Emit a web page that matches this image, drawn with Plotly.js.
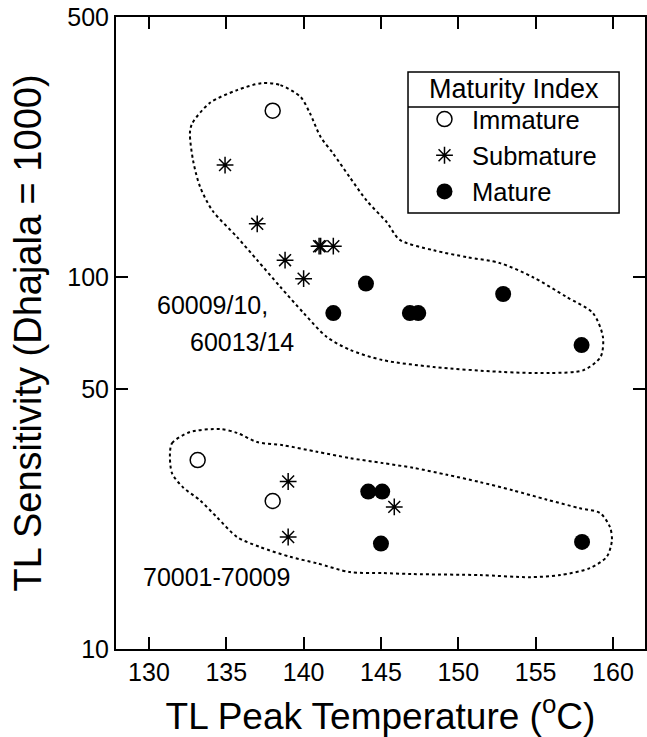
<!DOCTYPE html>
<html>
<head>
<meta charset="utf-8">
<script src="https://cdn.plot.ly/plotly-3.0.1.min.js"></script>
<style>html,body{margin:0;padding:0;background:#fff;}#chart{width:647px;height:737px;}</style>
</head>
<body>
<div id="chart"></div>
<script>
// Data values (TL peak temperature in °C, TL sensitivity relative to Dhajala = 1000)
const immatureX = [138, 133.15, 138];
const immatureY = [280, 32.2, 25];

const submatureX = [134.92, 137.0, 138.8, 140.0, 141.0, 141.1, 141.92, 139.0, 139.0, 145.86];
const submatureY = [200, 139, 111, 99, 121, 121, 121, 28.2, 20, 24.1];

const matureX = [141.92, 144.03, 146.87, 147.41, 152.9, 157.97, 144.18, 145.08, 145.0, 158.0];
const matureY = [80, 96, 80, 80, 90, 65.6, 26.5, 26.5, 19.2, 19.4];

// Dotted outline around 60009/10, 60013/14 group
const outlineTopX = [137.3,138.5,139.8,140.4,141.1,141.9,143.0,144.1,145.4,146.2,148.4,150.6,152.7,154.8,157.0,158.7,159.35,159.2,158.1,155.9,152.7,148.4,145.1,143.0,141.5,140.0,138.5,137.0,135.7,134.1,133.3,132.85,132.65,132.8,133.95,135.7,137.3];
const outlineTopY = [332,328,305,276,238,215,185,160,140,126,118,113,109,100,88.4,80,69,61,56.2,55.2,55.6,57.3,59.8,63.7,69,80,94,111,128,151,175,206,244,259,294,318,332];

// Dotted outline around 70001-70009 group
const outlineBotX = [131.36,131.5,132.65,134.6,135.7,137.0,138.66,140.86,143.0,145.13,147.07,149.27,151.4,153.53,155.73,157.86,159.16,159.8,159.93,159.6,158.5,156.57,154.63,151.4,147.07,145.13,143.0,140.86,139.12,137.18,135.7,134.4,133.3,132.2,131.49,131.36];
const outlineBotY = [33.7,35.8,38.3,39.0,38.1,36.0,35.3,33.9,32.6,31.6,30.7,29.4,28.1,26.7,25.2,23.9,23.2,21.3,19.6,17.7,16.5,15.8,15.6,15.8,15.9,16.0,16.1,17.0,17.7,18.8,20.0,22.6,25.1,27.2,29.7,33.7];

const xTicks = [130, 135, 140, 145, 150, 155, 160];
const yTicks = [10, 50, 100, 500];

const FONT = "Liberation Sans, Arial, Helvetica, sans-serif";

const traces = [
  {x: outlineTopX, y: outlineTopY, mode: 'lines', showlegend: false, hoverinfo: 'skip',
   line: {color: '#000', width: 2, dash: 'dot', shape: 'spline', smoothing: 0.8}},
  {x: outlineBotX, y: outlineBotY, mode: 'lines', showlegend: false, hoverinfo: 'skip',
   line: {color: '#000', width: 2, dash: 'dot', shape: 'spline', smoothing: 0.8}},
  {x: immatureX, y: immatureY, mode: 'markers', name: 'Immature',
   marker: {symbol: 'circle-open', size: 15, color: '#000', line: {width: 1.5, color: '#000'}}},
  {x: submatureX, y: submatureY, mode: 'markers', name: 'Submature',
   marker: {symbol: 'asterisk-open', size: 14, color: '#000', line: {width: 1.5, color: '#000'}}},
  {x: matureX, y: matureY, mode: 'markers', name: 'Mature',
   marker: {symbol: 'circle', size: 16, color: '#000', line: {width: 0}}}
];

// legend frame (paper coordinates)
const boxX0 = 0.552, boxX1 = 0.951, boxY0 = 0.690, boxY1 = 0.913, sepY = 0.8576;

const layout = {
  width: 647, height: 737,
  margin: {l: 116, r: 2, t: 17, b: 88},
  paper_bgcolor: '#fff', plot_bgcolor: '#fff',
  font: {family: FONT, color: '#000', size: 24},
  showlegend: true,
  legend: {
    x: 0.569, y: 0.875, xanchor: 'left', yanchor: 'top',
    bgcolor: 'rgba(0,0,0,0)', borderwidth: 0, itemwidth: 45,
    font: {family: FONT, size: 25.5, color: '#000'},
    tracegroupgap: 0
  },
  xaxis: {
    range: [127.87, 162.07], tickvals: xTicks, ticktext: xTicks.map(String),
    ticks: 'inside', ticklen: 12, tickwidth: 2, tickcolor: '#000',
    showline: true, linewidth: 2, linecolor: '#000', mirror: 'ticks',
    showgrid: false, zeroline: false,
    tickfont: {family: FONT, size: 25, color: '#000'},
    title: {text: 'TL Peak Temperature (<sup>o</sup>C)', font: {family: FONT, size: 37, color: '#000'}, standoff: 20}
  },
  yaxis: {
    type: 'log', range: [1, Math.log10(500)], tickvals: yTicks, ticktext: yTicks.map(String),
    ticks: 'inside', ticklen: 12, tickwidth: 2, tickcolor: '#000',
    showline: true, linewidth: 2, linecolor: '#000', mirror: 'ticks',
    showgrid: false, zeroline: false,
    tickfont: {family: FONT, size: 25, color: '#000'},
    title: {text: 'TL Sensitivity (Dhajala = 1000)', font: {family: FONT, size: 38, color: '#000'}, standoff: 14}
  },
  annotations: [
    {x: 134.08, y: 1.925, xref: 'x', yref: 'y', text: '60009/10,', showarrow: false, font: {family: FONT, size: 25, color: '#000'}},
    {x: 136.02, y: 1.825, xref: 'x', yref: 'y', text: '60013/14', showarrow: false, font: {family: FONT, size: 25, color: '#000'}},
    {x: 134.38, y: 1.194, xref: 'x', yref: 'y', text: '70001-70009', showarrow: false, font: {family: FONT, size: 25, color: '#000'}},
    {x: (boxX0 + boxX1) / 2, y: (boxY1 + sepY) / 2, xref: 'paper', yref: 'paper', text: 'Maturity Index', showarrow: false,
     xanchor: 'center', yanchor: 'middle', font: {family: FONT, size: 27, color: '#000'}}
  ],
  shapes: [
    {type: 'rect', xref: 'paper', yref: 'paper', x0: boxX0, x1: boxX1, y0: boxY0, y1: boxY1,
     fillcolor: '#fff', line: {color: '#000', width: 1.5}, layer: 'above'},
    {type: 'line', xref: 'paper', yref: 'paper', x0: boxX0, x1: boxX1, y0: sepY, y1: sepY, line: {color: '#000', width: 1.5}, layer: 'above'}
  ]
};

Plotly.newPlot('chart', traces, layout, {staticPlot: true, displayModeBar: false});
</script>
</body>
</html>
